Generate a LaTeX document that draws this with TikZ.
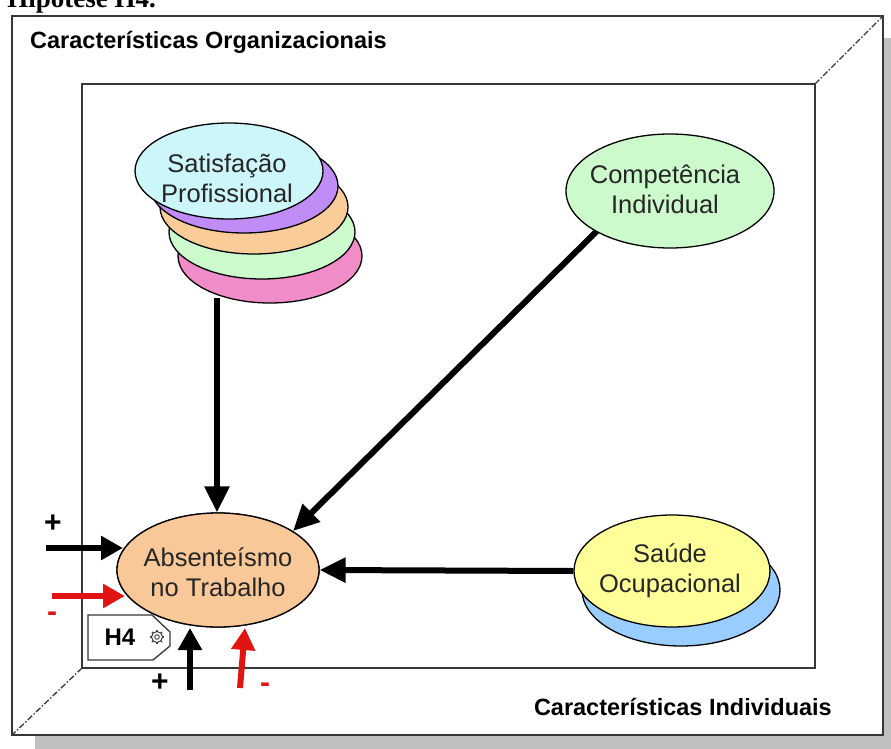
\documentclass[tikz,border=0pt]{standalone}
\usepackage{fontspec}
\setmainfont{Liberation Sans}
\newfontfamily\titlefont{Liberation Serif}
\usetikzlibrary{arrows.meta,shapes.geometric}

\definecolor{framegray}{RGB}{55,55,55}
\definecolor{shadowgray}{RGB}{192,192,192}
\definecolor{cyanfill}{RGB}{204,246,250}
\definecolor{purplefill}{RGB}{192,140,246}
\definecolor{orangefill}{RGB}{250,204,153}
\definecolor{greenfill}{RGB}{204,250,204}
\definecolor{pinkfill}{RGB}{240,140,200}
\definecolor{peachfill}{RGB}{248,200,152}
\definecolor{yellowfill}{RGB}{255,255,153}
\definecolor{bluefill}{RGB}{153,204,255}
\definecolor{arrowred}{RGB}{225,20,20}

\tikzset{
  bubble/.style={ellipse, draw=black, line width=1.3pt, inner sep=0pt},
  bubbletext/.style={align=center, text=black!85, font=\fontsize{25.5}{30}\selectfont},
  causal/.style={line width=6pt, -{Triangle[length=26pt,width=24pt]}},
  inputarrow/.style={line width=6pt, -{Triangle[length=22pt,width=23pt]}},
  frameline/.style={draw=framegray, line width=2pt},
  cornerline/.style={draw=framegray, line width=1.3pt, dash pattern=on 6pt off 2pt on 1.5pt off 2pt},
  regionlabel/.style={font=\bfseries\fontsize{23.5}{28}\selectfont, inner sep=0pt},
  sign/.style={font=\bfseries\fontsize{30}{32}\selectfont, inner sep=0pt},
}

\begin{document}
\begin{tikzpicture}[x=1pt, y=-1pt]
\useasboundingbox (0,0) rectangle (891,749);

% heading, partly cut by the page edge
\node[anchor=base east, inner sep=0pt, font=\titlefont\bfseries\fontsize{27}{30}\selectfont] (title) at (156,8) {Hipótese H4.};

% outer box with its drop shadow
\fill[shadowgray] (35,38) rectangle (891,749);
\draw[frameline, fill=white] (12,16) rectangle (883,735);

% perspective corners
\coordinate (outerNE) at (883,16);
\coordinate (innerNE) at (815,84);
\coordinate (outerSW) at (12,735);
\coordinate (innerSW) at (82,668);
\draw[cornerline] (innerNE) -- (outerNE);
\draw[cornerline] (innerSW) -- (outerSW);

% inner box
\draw[frameline] (82,84) rectangle (815,668);

\node[regionlabel, anchor=base west] (orglabel) at (30,49) {Características Organizacionais};
\node[regionlabel, anchor=base east] (indlabel) at (832,715) {Características Individuais};

% connector end points
\coordinate (satfoot) at (217,298);
\coordinate (compfoot) at (597,231);
\coordinate (abshit) at (293,531);
\coordinate (plusin) at (46,548);
\coordinate (plushit) at (123,548);
\coordinate (minusin) at (52,596);
\coordinate (minushit) at (125,596);
\coordinate (plusup) at (190,690);
\coordinate (plustip) at (190,628);
\coordinate (minusup) at (240,688);
\coordinate (minustip) at (245,628);

% central construct (placed first so connectors can refer to it)
\node[bubble, fill=peachfill, minimum width=202pt, minimum height=114pt] (abs) at (218,570) {};
\node[bubble, fill=bluefill, minimum width=198pt, minimum height=112pt] (saushadow) at (681,590) {};
\node[bubble, fill=yellowfill, minimum width=196pt, minimum height=112pt] (sau) at (672,571) {};

% connectors
\draw[causal] (satfoot) -- (satfoot |- abs.north);
\draw[causal] (compfoot) -- (abshit);
\draw[causal] (sau.west) -- (abs.east);

\draw[inputarrow, black] (plusin) -- (plushit);
\draw[inputarrow, arrowred] (minusin) -- (minushit);
\draw[inputarrow, black] (plusup) -- (plustip);
\draw[inputarrow, arrowred] (minusup) -- (minustip);

% stacked satisfaction ellipses
\node[bubble, fill=pinkfill, minimum width=184pt, minimum height=94pt] (satE) at (270,256) {};
\node[bubble, fill=greenfill, minimum width=186pt, minimum height=94pt] (satD) at (262,232) {};
\node[bubble, fill=orangefill, minimum width=188pt, minimum height=94pt] (satC) at (254,207) {};
\node[bubble, fill=purplefill, minimum width=188pt, minimum height=94pt] (satB) at (244,186) {};
\node[bubble, fill=cyanfill, minimum width=188pt, minimum height=96pt] (sat) at (229,171) {};

\node[bubble, fill=greenfill, minimum width=208pt, minimum height=114pt] (comp) at (670,191) {};

% redraw central ellipse outline on top of the arrow tips
\node[bubble, fill=peachfill, minimum width=202pt, minimum height=114pt] (absface) at (abs) {};

% ellipse captions
\node[bubbletext] (sattext) at (227,178) {Satisfação\\Profissional};
\node[bubbletext] (comptext) at (665,189) {Competência\\Individual};
\node[bubbletext] (abstext) at (218,572) {Absenteísmo\\no Trabalho};
\node[bubbletext] (sautext) at (670,571) {Saúde\\Ocupacional};

% signs
\node[sign] (plusL) at (53,524) {+};
\node[sign, text=arrowred] (minusL) at (52,617) {-};
\node[sign] (plusB) at (160,683) {+};
\node[sign, text=arrowred] (minusB) at (265,688) {-};

% hypothesis tag
\draw[draw=framegray, line width=1.3pt, fill=white]
  (88,615) -- (152,615) -- (170,632) -- (170,646) -- (153,660) -- (88,660) -- cycle;
\node[font=\bfseries\fontsize{24}{26}\selectfont, inner sep=0pt] (h4) at (120,637) {H4};
\coordinate (gear) at (157,637);
\draw[gray!50!black, line width=1pt] (gear) circle (5.5pt);
\draw[gray!50!black, line width=0.9pt] (gear) circle (2.3pt);
\foreach \a in {0,45,...,315}
  \draw[gray!50!black, line width=1.2pt] (gear) ++(\a:5pt) -- ++(\a:2.2pt);
\end{tikzpicture}
\end{document}
